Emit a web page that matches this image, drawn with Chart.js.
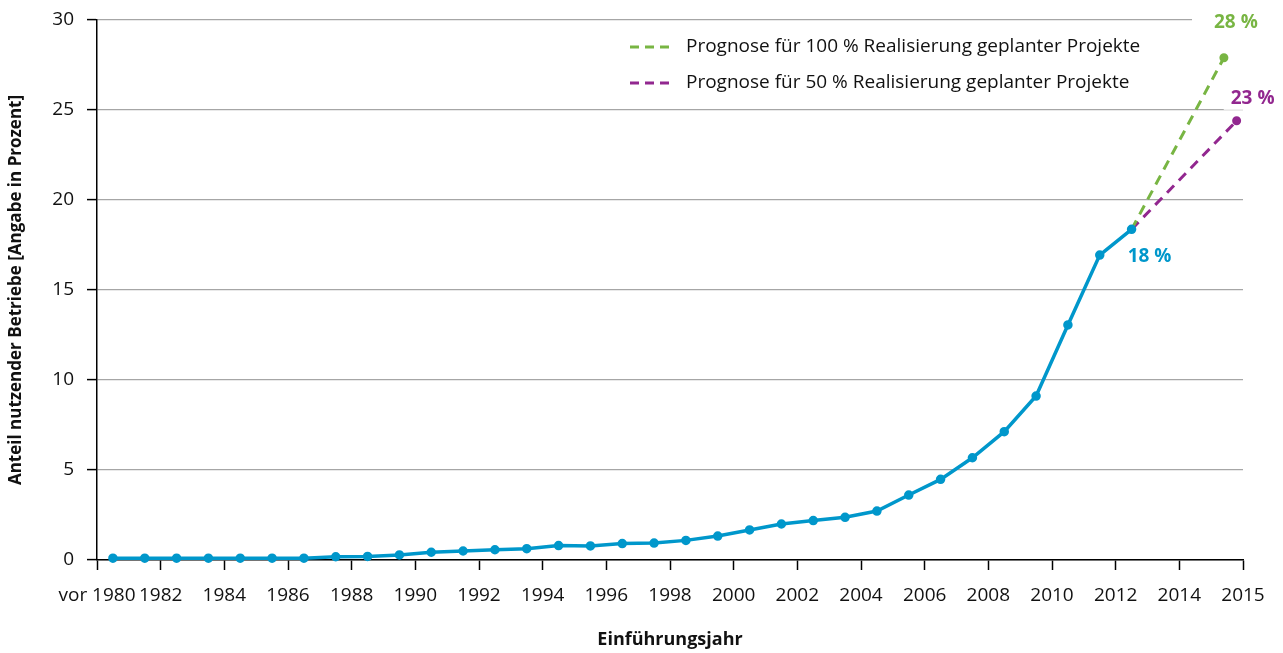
<!DOCTYPE html>
<html>
<head>
<meta charset="utf-8">
<script src="https://cdn.jsdelivr.net/npm/chart.js@4/dist/chart.umd.min.js"></script>
<style>
  html, body { margin: 0; padding: 0; background: #fff; }
  #wrap { width: 1283px; height: 653px; }
</style>
</head>
<body>
<div id="wrap"><canvas id="chart"></canvas></div>
<script>
// Werte
const years = [1980, 1981, 1982, 1983, 1984, 1985, 1986, 1987, 1988, 1989,
               1990, 1991, 1992, 1993, 1994, 1995, 1996, 1997, 1998, 1999,
               2000, 2001, 2002, 2003, 2004, 2005, 2006, 2007, 2008, 2009,
               2010, 2011, 2012];
const shares = [0.1, 0.1, 0.1, 0.1, 0.1, 0.1, 0.1, 0.18, 0.2, 0.28,
                0.43, 0.5, 0.57, 0.63, 0.8, 0.78, 0.91, 0.94, 1.09, 1.33,
                1.67, 2.0, 2.19, 2.37, 2.72, 3.61, 4.48, 5.68, 7.13, 9.11,
                13.06, 16.94, 18.37];

// Prognosen (Start = letzter Messwert)
const prog100Years = [2012, 2014.9];
const prog100Values = [18.37, 27.9];
const prog50Years = [2012, 2015.3];
const prog50Values = [18.37, 24.4];

const xTickLabels = ['vor 1980', '1982', '1984', '1986', '1988', '1990', '1992', '1994',
                     '1996', '1998', '2000', '2002', '2004', '2006', '2008', '2010',
                     '2012', '2014', '2015'];
const seriesLabels = ['Anteil', 'Prognose für 100 % Realisierung geplanter Projekte',
                      'Prognose für 50 % Realisierung geplanter Projekte'];
const endLabels = ['18 %', '28 %', '23 %'];

const FONT = "'Open Sans', 'Noto Sans', sans-serif";
const BLUE = '#0097cb';
const GREEN = '#78b543';
const PURPLE = '#92278f';

// Jahr -> Position auf der x-Achse (jedes Jahr belegt eine Einheit)
function pos(year) {
  return year - years[0] + 0.5;
}
function toPoints(xs, ys) {
  return xs.map((y, i) => ({ x: pos(y), y: ys[i] }));
}

// Legende innerhalb der Zeichenfläche
const innerLegend = {
  id: 'innerLegend',
  afterDraw(chart) {
    const { ctx } = chart;
    const items = [1, 2];
    ctx.save();
    items.forEach((di, k) => {
      const ds = chart.data.datasets[di];
      const y = 47 + k * 36;
      ctx.strokeStyle = ds.borderColor;
      ctx.lineWidth = 3;
      ctx.setLineDash([9, 6]);
      ctx.beginPath();
      ctx.moveTo(630, y);
      ctx.lineTo(669, y);
      ctx.stroke();
      ctx.setLineDash([]);
      ctx.fillStyle = '#111';
      ctx.font = '19px ' + FONT;
      ctx.textBaseline = 'middle';
      ctx.textAlign = 'left';
      ctx.fillText(ds.label, 686, y);
    });
    ctx.restore();
  }
};

// Prozentangaben an den Endpunkten
const endValueLabels = {
  id: 'endValueLabels',
  afterDatasetsDraw(chart) {
    const { ctx } = chart;
    const spots = [
      { ds: 0, dx: 18, dy: 27, padL: 6, padR: 6 },
      { ds: 1, dx: 12, dy: -35, padL: 22, padR: 6 },
      { ds: 2, dx: 16, dy: -22, padL: 7, padR: 6 }
    ];
    ctx.save();
    ctx.font = 'bold 19px ' + FONT;
    ctx.textAlign = 'center';
    ctx.textBaseline = 'middle';
    spots.forEach((s) => {
      const meta = chart.getDatasetMeta(s.ds);
      const el = meta.data[meta.data.length - 1];
      const x = el.x + s.dx;
      const y = el.y + s.dy;
      const text = endLabels[s.ds];
      const w = ctx.measureText(text).width;
      ctx.fillStyle = '#fff';
      ctx.fillRect(x - w / 2 - s.padL, y - 11, w + s.padL + s.padR, 22);
      ctx.fillStyle = chart.data.datasets[s.ds].borderColor;
      ctx.fillText(text, x, y);
    });
    ctx.restore();
  }
};

new Chart(document.getElementById('chart'), {
  type: 'scatter',
  data: {
    datasets: [
      {
        label: seriesLabels[0],
        data: toPoints(years, shares),
        showLine: true,
        borderColor: BLUE,
        backgroundColor: BLUE,
        borderWidth: 3.5,
        pointRadius: 3,
        pointHoverRadius: 3,
        tension: 0,
        order: 1
      },
      {
        label: seriesLabels[1],
        data: toPoints(prog100Years, prog100Values),
        showLine: true,
        borderColor: GREEN,
        backgroundColor: GREEN,
        borderWidth: 3,
        borderDash: [10, 7],
        pointRadius: [0, 3],
        order: 2
      },
      {
        label: seriesLabels[2],
        data: toPoints(prog50Years, prog50Values),
        showLine: true,
        borderColor: PURPLE,
        backgroundColor: PURPLE,
        borderWidth: 3,
        borderDash: [10, 7],
        pointRadius: [0, 3],
        order: 3
      }
    ]
  },
  options: {
    responsive: true,
    maintainAspectRatio: false,
    animation: false,
    clip: false,
    layout: { padding: { top: 20, right: 40, left: 0, bottom: 0 } },
    plugins: {
      legend: { display: false },
      tooltip: { enabled: false }
    },
    scales: {
      x: {
        type: 'linear',
        min: 0,
        max: 36,
        afterFit(scale) { scale.height = 93; },
        border: { color: '#000', width: 1.5 },
        grid: { drawOnChartArea: false, tickLength: 10, tickColor: '#000', tickWidth: 1.5 },
        ticks: {
          stepSize: 2,
          autoSkip: false,
          maxRotation: 0,
          padding: 14,
          color: '#111',
          font: { family: FONT, size: 19 },
          callback: (v) => xTickLabels[v / 2]
        },
        title: {
          display: true,
          text: 'Einführungsjahr',
          color: '#111',
          font: { family: FONT, size: 18, weight: 'bold' },
          padding: { top: 0, bottom: 2 }
        }
      },
      y: {
        min: 0,
        max: 30,
        afterFit(scale) {
          scale.width = 97;
          scale.paddingTop = 0;
          scale.paddingBottom = 0;
        },
        border: { color: '#000', width: 1.5 },
        grid: { color: '#a6a6a6', lineWidth: 1.2, tickLength: 10, tickColor: '#000', tickWidth: 1.5 },
        ticks: {
          stepSize: 5,
          padding: 13,
          color: '#111',
          font: { family: FONT, size: 19 }
        },
        title: {
          display: true,
          text: 'Anteil nutzender Betriebe [Angabe in Prozent]',
          color: '#111',
          font: { family: FONT, size: 17, weight: 'bold' },
          padding: { top: 6, bottom: 0 }
        }
      }
    }
  },
  plugins: [innerLegend, endValueLabels]
});
</script>
</body>
</html>
